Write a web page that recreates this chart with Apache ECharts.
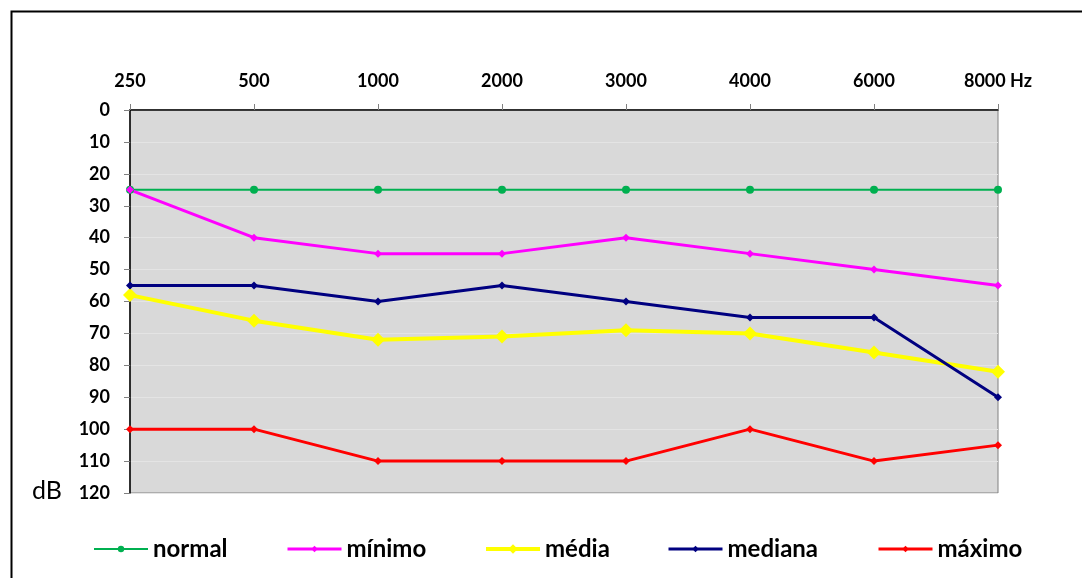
<!DOCTYPE html>
<html>
<head>
<meta charset="utf-8">
<script src="https://cdn.jsdelivr.net/npm/echarts@6/dist/echarts.min.js"></script>
<style>
  html, body { margin: 0; padding: 0; background: #ffffff; }
  #chart { width: 1082px; height: 578px; }
</style>
</head>
<body>
<div id="chart"></div>
<script>
// Frequencies (Hz) along the top axis
const frequencies = ['250', '500', '1000', '2000', '3000', '4000', '6000', '8000 Hz'];

// Hearing thresholds in dB per frequency
const normal  = [25, 25, 25, 25, 25, 25, 25, 25];
const minimo  = [25, 40, 45, 45, 40, 45, 50, 55];
const media   = [58, 66, 72, 71, 69, 70, 76, 82];
const mediana = [55, 55, 60, 55, 60, 65, 65, 90];
const maximo  = [100, 100, 110, 110, 110, 100, 110, 105];

const FONT = 'Lato, "Open Sans", sans-serif';

const seriesDefs = [
  { name: 'normal',  data: normal,  color: '#00B050', width: 2, symbol: 'circle',  size: 8,  legendH: 8 },
  { name: 'mínimo',  data: minimo,  color: '#FF00FF', width: 3, symbol: 'diamond', size: 8,  legendH: 8 },
  { name: 'média',   data: media,   color: '#FFFF00', width: 4, symbol: 'diamond', size: 14, legendH: 12 },
  { name: 'mediana', data: mediana, color: '#000080', width: 3, symbol: 'diamond', size: 8,  legendH: 8 },
  { name: 'máximo',  data: maximo,  color: '#FF0000', width: 3, symbol: 'diamond', size: 8,  legendH: 8 }
];

// left edge of each legend entry
const legendLefts = [93, 286, 484, 667, 877];

const chart = echarts.init(document.getElementById('chart'), null, { renderer: 'canvas' });

chart.setOption({
  animation: false,
  backgroundColor: '#ffffff',
  grid: {
    left: 130, right: 84, top: 110, bottom: 85,
    show: true,
    backgroundColor: '#D9D9D9',
    borderColor: '#808080',
    borderWidth: 1
  },
  legend: seriesDefs.map((s, i) => ({
    data: [s.name],
    left: legendLefts[i],
    top: 537,
    height: 26,
    padding: 0,
    itemWidth: 54,
    itemHeight: s.legendH,
    itemGap: 0,
    lineStyle: { width: s.width },
    textStyle: { fontFamily: FONT, fontSize: 24, fontWeight: 'bold', color: '#000' },
    selectedMode: false
  })),
  xAxis: {
    type: 'category',
    position: 'top',
    boundaryGap: false,
    data: frequencies,
    axisLine: { show: true, lineStyle: { color: '#000', width: 1.5 } },
    axisTick: { show: true, length: 6, lineStyle: { color: '#808080' } },
    axisLabel: { fontFamily: FONT, fontSize: 18, fontWeight: 'bold', color: '#000', margin: 20 },
    splitLine: { show: false }
  },
  yAxis: {
    type: 'value',
    inverse: true,
    min: 0, max: 120, interval: 10,
    axisLine: { show: true, lineStyle: { color: '#000', width: 1.5 } },
    axisTick: { show: true, length: 6, lineStyle: { color: '#808080' } },
    axisLabel: { fontFamily: FONT, fontSize: 18, fontWeight: 'bold', color: '#000', margin: 20 },
    splitLine: { show: true, lineStyle: { color: '#E4E4E4', width: 1 } }
  },
  graphic: [
    {
      type: 'rect',
      shape: { x: 11.5, y: 11.5, width: 1200, height: 700 },
      style: { fill: 'none', stroke: '#000', lineWidth: 2 },
      silent: true,
      z: -1
    },
    {
      type: 'text',
      left: 32, top: 478,
      style: { text: 'dB', font: '25px ' + FONT, fill: '#000' }
    }
  ],
  series: seriesDefs.map(s => ({
    name: s.name,
    type: 'line',
    data: s.data,
    symbol: s.symbol,
    symbolSize: s.size,
    showSymbol: true,
    lineStyle: { color: s.color, width: s.width },
    itemStyle: { color: s.color },
    emphasis: { disabled: true }
  }))
});
</script>
</body>
</html>
